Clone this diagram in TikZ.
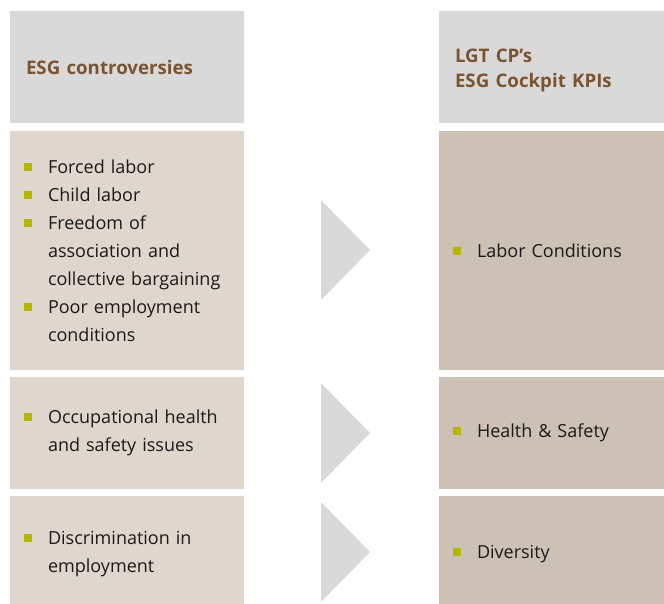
\documentclass[tikz,border=0pt]{standalone}
\usepackage{fontspec}
\setmainfont{Open Sans}
\usetikzlibrary{positioning,calc}

\definecolor{headgray}{HTML}{D9D9D9}
\definecolor{leftbeige}{HTML}{DFD6CD}
\definecolor{rightbeige}{HTML}{CDC0B4}
\definecolor{bulletgreen}{HTML}{B4B600}
\definecolor{headbrown}{HTML}{7B5432}
\definecolor{bodytext}{HTML}{1A1A1A}

\newcommand{\blt}[1]{\hangindent=24pt\hangafter=1\noindent\makebox[24pt][l]{\textcolor{bulletgreen}{\rule[2.5pt]{8pt}{8pt}}}#1\par}

\begin{document}
\begin{tikzpicture}
  [every node/.style={inner ysep=0pt,outer sep=0pt,align=left}]

  \tikzset{
  head/.style = {fill=headgray,inner xsep=16pt,text=headbrown,
    font=\fontsize{18.7pt}{25pt}\selectfont\bfseries},
  lbox/.style = {fill=leftbeige,inner xsep=14pt,text width=206pt,text=bodytext,
    font=\fontsize{18pt}{28pt}\selectfont},
  rbox/.style = {fill=rightbeige,inner xsep=14pt,text width=197pt,text=bodytext,
    font=\fontsize{18pt}{28pt}\selectfont}
  }

  \useasboundingbox (0,0) rectangle (664pt,-603pt);

  \node[head,text width=202pt,minimum height=112pt,anchor=north west] (c0) at (10pt,-11pt) {ESG controversies};
  \node[lbox,minimum height=239pt,below=8pt of c0] (c1) {\blt{Forced labor}\blt{Child labor}\blt{Freedom of\newline association and\newline collective bargaining}\blt{Poor employment\newline conditions}};
  \node[lbox,minimum height=112pt,below=7pt of c1] (c2) {\blt{Occupational health\newline and safety issues}};
  \node[lbox,minimum height=117pt,below=7pt of c2] (c3) {\blt{Discrimination in\newline employment}};

  \node[head,text width=193pt,minimum height=112pt,right=195pt of c0] (k0) {\rule{0pt}{21pt}LGT CP’s\\ESG Cockpit KPIs};
  \node[rbox,minimum height=239pt,right=195pt of c1] (k1) {\blt{Labor Conditions}};
  \node[rbox,minimum height=112pt,right=195pt of c2] (k2) {\blt{Health \& Safety}};
  \node[rbox,minimum height=117pt,right=195pt of c3] (k3) {\blt{Diversity}};

  \foreach \r/\d in {1/69,2/6,3/6}
    \fill[headgray] ($(c\r.north east)+(77pt,-\d pt)$) -- ++(49pt,-50pt) -- ++(-49pt,-50pt) -- cycle;

\end{tikzpicture}
\end{document}
